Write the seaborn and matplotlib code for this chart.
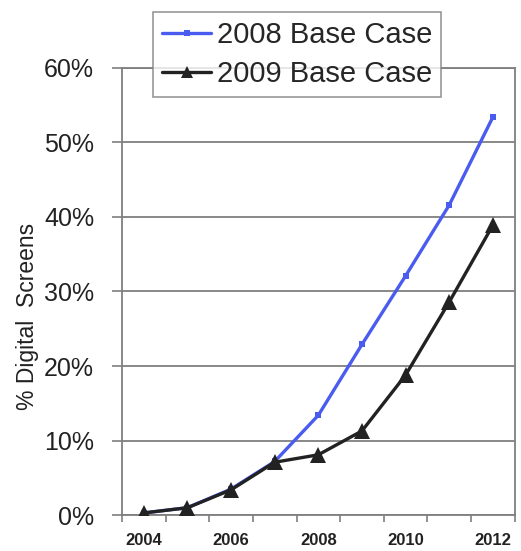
import matplotlib
matplotlib.use("Agg")
import matplotlib.pyplot as plt
import pandas as pd
import seaborn as sns
from matplotlib.ticker import FixedLocator, FuncFormatter

# Data (percent of digital screens)
years = [2004, 2005, 2006, 2007, 2008, 2009, 2010, 2011, 2012]
base_2008 = [0.3, 1.0, 3.5, 7.2, 13.4, 22.9, 32.1, 41.6, 53.4]
base_2009 = [0.3, 1.0, 3.4, 7.1, 8.1, 11.3, 18.8, 28.6, 38.9]
tick_years = [2004, 2006, 2008, 2010, 2012]
y_ticks = [0, 10, 20, 30, 40, 50, 60]

df_2008 = pd.DataFrame({"Year": years, "Share": base_2008})
df_2009 = pd.DataFrame({"Year": years, "Share": base_2009})

sns.set_theme(style="white")
plt.rcParams["font.family"] = ["Liberation Sans", "DejaVu Sans"]

fig = plt.figure(figsize=(5.21, 5.51), dpi=100)
ax = fig.add_axes([0.234, 0.065, 0.754, 0.812])

grey = "#7f7f7f"

sns.lineplot(data=df_2008, x="Year", y="Share", ax=ax, color="#4a5cf0",
             linewidth=2.4, marker="s", markersize=4, markeredgewidth=0,
             label="2008 Base Case", zorder=3)
sns.lineplot(data=df_2009, x="Year", y="Share", ax=ax, color="#222222",
             linewidth=2.4, marker="^", markersize=11, markeredgewidth=0,
             label="2009 Base Case", zorder=4)

ax.set_xlim(2003.5, 2012.5)
ax.set_ylim(0, 60)

ax.xaxis.set_major_locator(FixedLocator(tick_years))
ax.xaxis.set_minor_locator(FixedLocator([y - 0.5 for y in years] + [years[-1] + 0.5]))
ax.yaxis.set_major_locator(FixedLocator(y_ticks))
ax.yaxis.set_major_formatter(FuncFormatter(lambda v, p: f"{v:.0f}%"))

ax.tick_params(axis="x", which="major", length=0, labelsize=12, pad=13, colors="#222222")
for lab in ax.get_xticklabels():
    lab.set_fontweight("bold")
ax.tick_params(axis="x", which="minor", length=5, width=1.2, color=grey, direction="out", bottom=True)
ax.tick_params(axis="y", which="major", length=7, width=1.2, color=grey, direction="out",
               left=True, labelsize=18, labelcolor="#222222", pad=13)

ax.grid(axis="y", color=grey, linewidth=1.3)
ax.set_axisbelow(True)
for side in ["left", "right", "top", "bottom"]:
    ax.spines[side].set_color(grey)
    ax.spines[side].set_linewidth(1.3)

ax.set_xlabel("")
ax.set_ylabel("% Digital  Screens", fontsize=16.5, color="#222222")
ax.yaxis.set_label_coords(-0.21, 0.445)

leg = ax.legend(loc="upper left", bbox_to_anchor=(153 / 521, 1 - 12 / 551),
                bbox_transform=fig.transFigure, fontsize=21, frameon=True,
                handlelength=1.7, handletextpad=0.2, borderpad=0.3,
                labelspacing=0.4, borderaxespad=0, fancybox=False)
leg.get_frame().set_edgecolor(grey)
leg.get_frame().set_linewidth(1.2)
leg.set_zorder(10)
leg.legend_handles[1].set_markersize(8)

fig.savefig("out.png", dpi=100)
